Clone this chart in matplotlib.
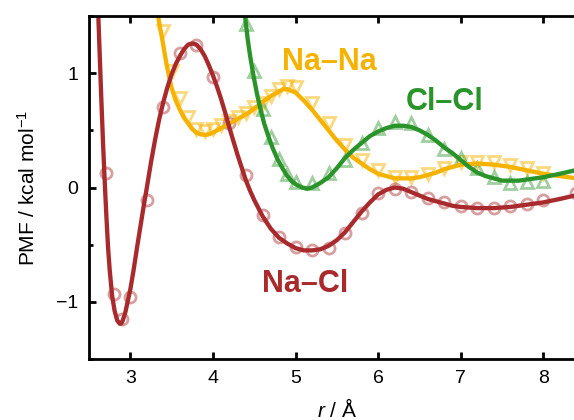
import matplotlib
matplotlib.use("Agg")
import matplotlib.pyplot as plt
from matplotlib.ticker import MultipleLocator

plt.rcParams["font.family"] = ["Liberation Sans", "DejaVu Sans"]
plt.rcParams["mathtext.fontset"] = "custom"
plt.rcParams["mathtext.rm"] = "Liberation Sans"
plt.rcParams["mathtext.it"] = "Liberation Sans:italic"

# ---- simulation points (markers) ----
nacl_r = [2.7, 2.8, 2.9, 3.0, 3.2, 3.4, 3.6, 3.8, 4.0, 4.2, 4.4, 4.6, 4.8, 5.0, 5.2,
          5.4, 5.6, 5.8, 6.0, 6.2, 6.4, 6.6, 6.8, 7.0, 7.2, 7.4, 7.6, 7.8, 8.0, 8.4]
nacl_pmf = [0.13, -0.93, -1.15, -0.96, -0.11, 0.70, 1.18, 1.25, 0.97, 0.56, 0.11, -0.24,
            -0.43, -0.52, -0.55, -0.53, -0.40, -0.22, -0.05, -0.01, -0.04, -0.09, -0.13,
            -0.16, -0.18, -0.18, -0.16, -0.14, -0.11, -0.05]

nana_r = [3.4, 3.5, 3.6, 3.7, 3.8, 3.9, 4.0, 4.1, 4.2, 4.3, 4.4, 4.5, 4.6, 4.7, 4.8, 4.9,
          5.0, 5.2, 5.4, 5.6, 5.8, 6.0, 6.2, 6.4, 6.6, 6.8, 7.0, 7.2, 7.4, 7.6, 7.8, 8.0]
nana_pmf = [1.37, 1.02, 0.78, 0.62, 0.51, 0.49, 0.51, 0.55, 0.58, 0.62, 0.65, 0.70, 0.74,
            0.80, 0.86, 0.89, 0.88, 0.74, 0.56, 0.37, 0.24, 0.15, 0.09, 0.09, 0.12, 0.17,
            0.22, 0.22, 0.22, 0.20, 0.17, 0.13]

clcl_r = [4.4, 4.5, 4.6, 4.7, 4.8, 4.9, 5.0, 5.2, 5.4, 5.6, 5.8, 6.0, 6.2, 6.4, 6.6, 6.8,
          7.0, 7.2, 7.4, 7.6, 7.8, 8.0]
clcl_pmf = [1.43, 1.02, 0.69, 0.44, 0.25, 0.12, 0.05, 0.04, 0.13, 0.24, 0.39, 0.52, 0.57,
            0.56, 0.46, 0.34, 0.26, 0.17, 0.09, 0.04, 0.05, 0.06]

# ---- fitted curves ----
nacl_fit_r = [2.61, 2.63, 2.65, 2.67, 2.69, 2.71, 2.73, 2.75, 2.78, 2.81, 2.84, 2.87, 2.89,
              2.91, 2.94, 2.97, 3.00, 3.04, 3.08, 3.12, 3.16, 3.20, 3.25, 3.30, 3.35, 3.40,
              3.45, 3.50, 3.55, 3.60, 3.65, 3.70, 3.75, 3.80, 3.85, 3.90, 3.95, 4.00, 4.05,
              4.10, 4.15, 4.20, 4.25, 4.30, 4.35, 4.40, 4.45, 4.50, 4.60, 4.70, 4.80, 4.90,
              5.00, 5.10, 5.20, 5.30, 5.40, 5.50, 5.60, 5.70, 5.80, 5.90, 6.00, 6.10, 6.20,
              6.30, 6.40, 6.50, 6.60, 6.70, 6.80, 6.90, 7.00, 7.20, 7.40, 7.60, 7.80, 8.00,
              8.20, 8.50]
nacl_fit = [1.55, 1.15, 0.75, 0.38, 0.05, -0.25, -0.52, -0.72, -0.95, -1.08, -1.16, -1.19,
            -1.19, -1.16, -1.09, -0.99, -0.89, -0.72, -0.53, -0.35, -0.17, 0.00, 0.22, 0.42,
            0.60, 0.75, 0.88, 0.99, 1.08, 1.15, 1.21, 1.25, 1.26, 1.25, 1.21, 1.15, 1.07,
            0.98, 0.88, 0.77, 0.65, 0.52, 0.40, 0.28, 0.17, 0.06, -0.03, -0.11, -0.25, -0.36,
            -0.44, -0.49, -0.53, -0.55, -0.55, -0.54, -0.51, -0.46, -0.39, -0.30, -0.21,
            -0.13, -0.06, -0.02, 0.00, -0.01, -0.04, -0.07, -0.10, -0.12, -0.14, -0.16,
            -0.17, -0.18, -0.18, -0.17, -0.15, -0.13, -0.10, -0.05]

nana_fit_r = [3.33, 3.36, 3.40, 3.43, 3.46, 3.50, 3.55, 3.60, 3.65, 3.70, 3.75, 3.80, 3.85,
              3.90, 3.95, 4.00, 4.10, 4.20, 4.30, 4.40, 4.50, 4.60, 4.70, 4.80, 4.85, 4.90,
              5.00, 5.10, 5.20, 5.30, 5.40, 5.50, 5.60, 5.70, 5.80, 5.90, 6.00, 6.10, 6.20,
              6.30, 6.40, 6.50, 6.60, 6.70, 6.80, 6.90, 7.00, 7.20, 7.40, 7.60, 7.80, 8.00,
              8.20, 8.50]
nana_fit = [1.52, 1.40, 1.24, 1.11, 1.00, 0.87, 0.76, 0.68, 0.61, 0.56, 0.51, 0.48, 0.465,
            0.46, 0.465, 0.48, 0.52, 0.56, 0.60, 0.64, 0.69, 0.75, 0.80, 0.84, 0.86, 0.86,
            0.83, 0.76, 0.68, 0.59, 0.50, 0.41, 0.33, 0.26, 0.21, 0.16, 0.12, 0.10, 0.08,
            0.08, 0.08, 0.09, 0.11, 0.13, 0.16, 0.18, 0.20, 0.21, 0.20, 0.18, 0.15, 0.12,
            0.10, 0.07]

clcl_fit_r = [4.385, 4.42, 4.45, 4.49, 4.53, 4.57, 4.62, 4.67, 4.72, 4.78, 4.84, 4.90, 4.96,
              5.02, 5.08, 5.14, 5.20, 5.30, 5.40, 5.50, 5.60, 5.70, 5.80, 5.90, 6.00, 6.10,
              6.20, 6.30, 6.40, 6.50, 6.60, 6.70, 6.80, 6.90, 7.00, 7.10, 7.20, 7.30, 7.40,
              7.50, 7.60, 7.70, 7.80, 7.90, 8.00, 8.20, 8.50]
clcl_fit = [1.52, 1.30, 1.15, 0.98, 0.83, 0.70, 0.56, 0.45, 0.35, 0.25, 0.17, 0.10, 0.05,
            0.02, 0.00, -0.01, 0.00, 0.04, 0.09, 0.17, 0.26, 0.33, 0.39, 0.45, 0.49, 0.52,
            0.54, 0.54, 0.53, 0.50, 0.46, 0.41, 0.35, 0.30, 0.24, 0.18, 0.13, 0.10, 0.08,
            0.06, 0.06, 0.06, 0.07, 0.08, 0.09, 0.12, 0.17]

c_nacl = "#a82a2c"
c_nana = "#f5b300"
c_clcl = "#2a942a"

fig = plt.figure(figsize=(5.74, 4.2), dpi=100)
ax = fig.add_axes([0.1551, 0.1452, 0.8636, 0.8167])

# markers
ax.plot(nana_r, nana_pmf, "v", ms=8.5, mfc="none", mec=c_nana, mew=2, alpha=0.5)
ax.plot(clcl_r, clcl_pmf, "^", ms=8.5, mfc="none", mec=c_clcl, mew=2, alpha=0.45)
ax.plot(nacl_r, nacl_pmf, "o", ms=8, mfc="none", mec=c_nacl, mew=2, alpha=0.45)

# fitted lines
ax.plot(nana_fit_r, nana_fit, "-", color=c_nana, lw=3.1)
ax.plot(clcl_fit_r, clcl_fit, "-", color=c_clcl, lw=3.1)
ax.plot(nacl_fit_r, nacl_fit, "-", color=c_nacl, lw=3.1)

# labels for the curves
ax.text(5.41, 1.03, "Na\u2013Na", color=c_nana, fontsize=22, fontweight="bold",
        ha="center", va="baseline")
ax.text(6.81, 0.675, "Cl\u2013Cl", color=c_clcl, fontsize=22, fontweight="bold",
        ha="center", va="baseline")
ax.text(5.12, -0.91, "Na\u2013Cl", color=c_nacl, fontsize=22, fontweight="bold",
        ha="center", va="baseline")

ax.set_xlim(2.5, 8.5)
ax.set_ylim(-1.5, 1.5)
ax.xaxis.set_major_locator(MultipleLocator(1))
ax.yaxis.set_major_locator(MultipleLocator(1))
ax.yaxis.set_minor_locator(MultipleLocator(0.5))

ax.tick_params(which="both", direction="in", top=True, right=True, width=2,
               labelsize=14, pad=8)
ax.tick_params(which="major", length=5)
ax.tick_params(which="minor", length=3)
for s in ax.spines.values():
    s.set_linewidth(2)

ax.set_xlabel("$r$ / \u00c5", fontsize=15)
ax.set_ylabel("PMF / kcal mol$^{-1}$", fontsize=15)
ax.xaxis.set_label_coords(0.5, -0.114)
ax.yaxis.set_label_coords(-0.123, 0.5)
ax.xaxis.label.set_va("top")
ax.yaxis.label.set_va("center")

fig.savefig("out.png", dpi=100)
